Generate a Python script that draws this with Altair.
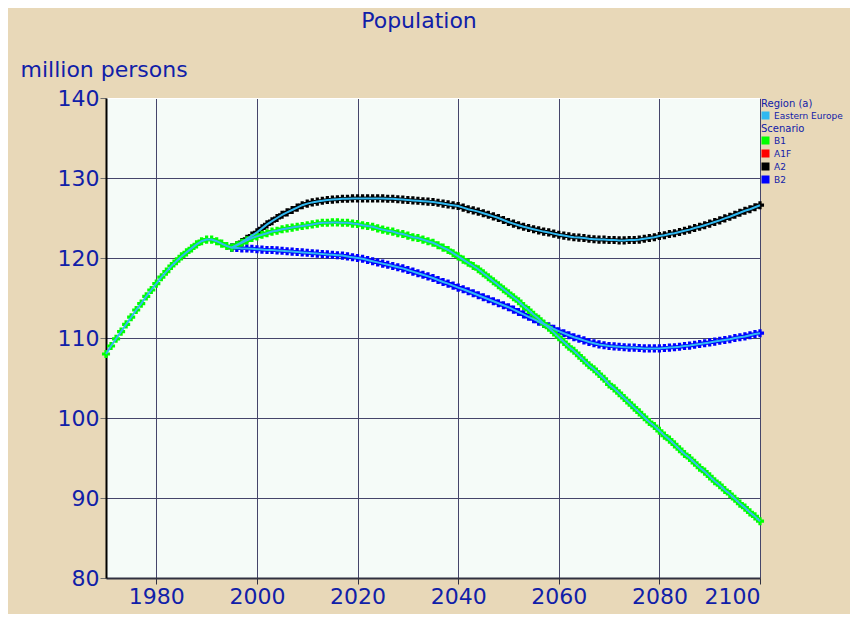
import altair as alt
import pandas as pd

years_b1 = list(range(1970, 2101))
b1 = [108.0, 109.0, 109.9, 110.8, 111.7, 112.6, 113.5, 114.3, 115.2, 116.0,
      116.8, 117.6, 118.3, 119.0, 119.6, 120.2, 120.7, 121.2, 121.7, 122.1,
      122.3, 122.3, 122.1, 121.8, 121.5, 121.3, 121.6, 121.9, 122.2, 122.5,
      122.7, 122.9, 123.1, 123.3, 123.4, 123.6, 123.7, 123.8, 123.9, 124.0,
      124.1, 124.2, 124.3, 124.4, 124.4, 124.45, 124.45, 124.4, 124.4, 124.3,
      124.25, 124.1, 124.0, 123.9, 123.7, 123.55, 123.4, 123.3, 123.1, 123.0,
      122.8, 122.6, 122.5, 122.3, 122.1, 121.9, 121.6, 121.3, 121.0, 120.6,
      120.2, 119.8, 119.4, 119.0, 118.6, 118.1, 117.6, 117.1, 116.6, 116.1,
      115.6, 115.1, 114.6, 114.0, 113.5, 112.9, 112.4, 111.8, 111.3, 110.7,
      110.1, 109.5, 108.9, 108.4, 107.8, 107.2, 106.6, 106.1, 105.5, 104.9,
      104.2, 103.7, 103.1, 102.5, 101.9, 101.3, 100.7, 100.1, 99.5, 99.0,
      98.4, 97.8, 97.3, 96.7, 96.1, 95.5, 95.0, 94.4, 93.8, 93.3,
      92.7, 92.1, 91.6, 91.0, 90.5, 89.9, 89.3, 88.8, 88.2, 87.7,
      87.1]

years_proj = list(range(1995, 2101))
a2 = [121.3, 121.6, 122.0, 122.4, 122.8,
      123.2, 123.7, 124.2, 124.6, 125.0, 125.4, 125.7, 126.0, 126.3, 126.6,
      126.8, 126.95, 127.05, 127.15, 127.25, 127.3, 127.35, 127.4, 127.4, 127.45,
      127.45, 127.45, 127.45, 127.45, 127.45, 127.45, 127.4, 127.4, 127.35, 127.3,
      127.25, 127.2, 127.15, 127.1, 127.05, 127.0, 126.9, 126.8, 126.7, 126.6,
      126.5, 126.3, 126.1, 125.95, 125.8, 125.6, 125.4, 125.2, 125.0, 124.75,
      124.5, 124.3, 124.1, 123.9, 123.75, 123.6, 123.45, 123.3, 123.2, 123.05,
      122.9, 122.8, 122.7, 122.6, 122.55, 122.5, 122.4, 122.35, 122.3, 122.3,
      122.25, 122.25, 122.2, 122.2, 122.25, 122.25, 122.3, 122.4, 122.5, 122.6,
      122.75, 122.85, 123.0, 123.1, 123.25, 123.4, 123.55, 123.75, 123.9, 124.1,
      124.3, 124.5, 124.7, 124.95, 125.15, 125.4, 125.65, 125.9, 126.1, 126.35,
      126.6]
b2 = [121.3, 121.25, 121.2, 121.2, 121.15,
      121.1, 121.05, 121.0, 121.0, 120.95, 120.9, 120.85, 120.8, 120.75, 120.7,
      120.65, 120.6, 120.55, 120.5, 120.45, 120.4, 120.35, 120.3, 120.2, 120.1,
      120.0, 119.9, 119.75, 119.6, 119.45, 119.3, 119.15, 119.0, 118.85, 118.7,
      118.5, 118.3, 118.1, 117.9, 117.7, 117.5, 117.25, 117.0, 116.8, 116.55,
      116.3, 116.1, 115.85, 115.6, 115.35, 115.1, 114.85, 114.6, 114.35, 114.1,
      113.85, 113.55, 113.25, 112.95, 112.65, 112.35, 112.05, 111.75, 111.45, 111.15,
      110.85, 110.6, 110.35, 110.1, 109.9, 109.7, 109.5, 109.35, 109.2, 109.1,
      109.0, 108.95, 108.9, 108.85, 108.8, 108.8, 108.75, 108.7, 108.7, 108.7,
      108.7, 108.75, 108.8, 108.85, 108.9, 109.0, 109.05, 109.15, 109.25, 109.35,
      109.45, 109.55, 109.65, 109.75, 109.85, 110.0, 110.1, 110.2, 110.35, 110.5,
      110.6]

scenarios = ["B1", "A1F", "A2", "B2"]
scenario_colors = ["#00FF00", "#FF0000", "#000000", "#0000FF"]
region = "Eastern Europe"
region_color = "#30B8F0"
x_ticks = [1980, 2000, 2020, 2040, 2060, 2080, 2100]
y_ticks = [80, 90, 100, 110, 120, 130, 140]

rows = []
for yr, v in zip(years_proj, a2):
    rows.append({"Year": yr, "Value": v, "Scenario": "A2", "Region": region, "o": 0})
for yr, v in zip(years_proj, b2):
    rows.append({"Year": yr, "Value": v, "Scenario": "B2", "Region": region, "o": 1})
for yr, v in zip(years_b1, b1):
    rows.append({"Year": yr, "Value": v, "Scenario": "B1", "Region": region, "o": 2})
df = pd.DataFrame(rows)

BLUE = "#1020A8"
FONT = "DejaVu Sans"
GRID = "#45456A"

x_enc = alt.X("Year:Q", scale=alt.Scale(domain=[1970, 2100], nice=False, zero=False),
              axis=alt.Axis(values=x_ticks, format="d", title=None, grid=True,
                            gridColor=GRID, gridOpacity=1, domainColor="#303040",
                            domainWidth=2, tickColor="#303040", tickSize=6,
                            labelFontSize=22, labelColor=BLUE, labelFont=FONT,
                            labelPadding=2))
y_enc = alt.Y("Value:Q", scale=alt.Scale(domain=[80, 140], nice=False, zero=False),
              axis=alt.Axis(values=y_ticks, title="million persons", grid=True,
                            gridColor={"condition": {"test": "datum.value == 140", "value": "#FFFFFF"},
                                       "value": GRID},
                            gridOpacity=1, domainColor="#000000", domainWidth=2,
                            tickColor="#707070", tickSize=6,
                            labelFontSize=22, labelColor=BLUE, labelFont=FONT,
                            labelPadding=1,
                            titleAngle=0, titleAlign="left", titleBaseline="alphabetic",
                            titleX=-86, titleY=-22, titleFontSize=22,
                            titleFontWeight="normal", titleColor=BLUE, titleFont=FONT))

legend_common = dict(symbolType="square", symbolSize=64, symbolStrokeWidth=0,
                     titleFontSize=10, labelFontSize=9, titleColor=BLUE,
                     labelColor=BLUE, titleFont=FONT, labelFont=FONT,
                     titleFontWeight="normal", titlePadding=2, rowPadding=3,
                     labelOffset=4, padding=0, orient="none", legendX=655)

points = alt.Chart(df).mark_point(shape="cross", filled=True, size=65, opacity=1).encode(
    x=x_enc, y=y_enc,
    fill=alt.Fill("Scenario:N", scale=alt.Scale(domain=scenarios, range=scenario_colors),
                  legend=alt.Legend(title="Scenario", legendY=26, **legend_common)),
    order=alt.Order("o:Q"),
)

lines = alt.Chart(df).mark_line(strokeWidth=2).encode(
    x="Year:Q", y="Value:Q",
    detail="Scenario:N",
    stroke=alt.Stroke("Region:N", scale=alt.Scale(domain=[region], range=[region_color]),
                      legend=alt.Legend(title="Region (a)", legendY=1,
                                        symbolFillColor=region_color, **legend_common)),
)

chart = alt.layer(points, lines).resolve_scale(fill="independent", stroke="independent").properties(
    width=654, height=480,
    autosize=alt.AutoSizeParams(type="none"),
    padding={"left": 98, "top": 90, "right": 90, "bottom": 36},
    background="#E8D8B8",
    title=alt.Title("Population", fontSize=22, color=BLUE, font=FONT, fontWeight="normal",
                    anchor="middle", frame="group", offset=25, dx=-14),
).configure_view(stroke="transparent", fill="#F5FBF8")

chart.save("out.html", embed_options={"renderer": "svg", "actions": False})
